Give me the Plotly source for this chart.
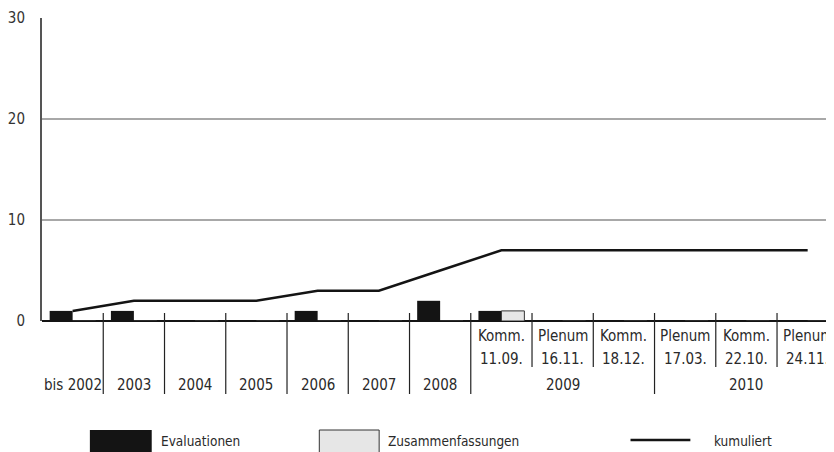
import plotly.graph_objects as go

# categories (x positions 0..12) and their two label rows
top_row = ["", "", "", "", "", "", "", "Komm.", "Plenum", "Komm.", "Plenum", "Komm.", "Plenum"]
mid_row = ["", "", "", "", "", "", "", "11.09.", "16.11.", "18.12.", "17.03.", "22.10.", "24.11."]
year_labels = ["bis 2002", "2003", "2004", "2005", "2006", "2007", "2008"]
group_labels = ["2009", "2010"]

evaluationen = [1, 1, 0, 0, 1, 0, 2, 1, 0, 0, 0, 0, 0]
zusammenfassungen = [0, 0, 0, 0, 0, 0, 0, 1, 0, 0, 0, 0, 0]
kumuliert = [1, 2, 2, 2, 3, 3, 5, 7, 7, 7, 7, 7, 7]

y_ticks = [0, 10, 20, 30]

FONT = "DejaVu Sans Condensed, Liberation Sans Narrow, Roboto, sans-serif"
TXT = "#2a2a2a"
x = list(range(len(kumuliert)))

# page body has an 8px margin, so work in screen pixels and shift
OFF = 8
FIG_W, FIG_H = 834 - OFF, 452 - OFF
PLOT_L, PLOT_T, PLOT_B = 40, 18, 321   # screen pixels

fig = go.Figure()
fig.add_trace(go.Bar(x=x, y=evaluationen, name="Evaluationen",
                     marker=dict(color="#141414", line=dict(width=0))))
fig.add_trace(go.Bar(x=x, y=zusammenfassungen, name="Zusammenfassungen",
                     marker=dict(color="#e6e6e6", line=dict(color="#333333", width=1))))
fig.add_trace(go.Scatter(x=x, y=kumuliert, name="kumuliert", mode="lines",
                         line=dict(color="#141414", width=2.5)))

shapes = []
ann = []

def py(p):
    return (PLOT_B - p) / float(PLOT_B - PLOT_T)

def px_(p):
    return (p - PLOT_L) / float(834 - PLOT_L)

def label(xv, yv, text, xref="x", xanchor="center", size=15):
    ann.append(dict(x=xv, y=yv, xref=xref, yref="paper", text=text, showarrow=False,
                    xanchor=xanchor, yanchor="middle", font=dict(size=size)))

# separators under the axis
long_sep = [0.5, 1.5, 2.5, 3.5, 4.5, 5.5, 6.5, 9.5]
short_sep = [7.5, 8.5, 10.5, 11.5]
for s in long_sep:
    shapes.append(dict(type="line", xref="x", yref="paper", x0=s, x1=s,
                       y0=py(313), y1=py(394), line=dict(color="#222", width=1.2)))
for s in short_sep:
    shapes.append(dict(type="line", xref="x", yref="paper", x0=s, x1=s,
                       y0=py(313), y1=py(367), line=dict(color="#222", width=1.2)))

for i, lab in enumerate(year_labels):
    label(i, py(385), lab)
for i in range(len(top_row)):
    if top_row[i]:
        label(i, py(336), top_row[i])
        label(i, py(359), mid_row[i])
label(8, py(385), group_labels[0])
label(11, py(385), group_labels[1])

# custom legend
shapes.append(dict(type="rect", xref="paper", yref="paper", x0=px_(88), x1=px_(150),
                   y0=py(430), y1=py(460), fillcolor="#141414", line=dict(width=0)))
shapes.append(dict(type="rect", xref="paper", yref="paper", x0=px_(318), x1=px_(378),
                   y0=py(430), y1=py(460), fillcolor="#e6e6e6", line=dict(color="#333", width=1)))
shapes.append(dict(type="line", xref="paper", yref="paper", x0=px_(630), x1=px_(690),
                   y0=py(440), y1=py(440), line=dict(color="#141414", width=2.5)))
label(px_(157), py(441), "Evaluationen", xref="paper", xanchor="left", size=13.5)
label(px_(385), py(441), "Zusammenfassungen", xref="paper", xanchor="left", size=13.5)
label(px_(712), py(441), "kumuliert", xref="paper", xanchor="left", size=13.5)

fig.update_layout(
    width=FIG_W, height=FIG_H,
    margin=dict(l=PLOT_L - OFF, r=0, t=PLOT_T - OFF, b=FIG_H - (PLOT_B - OFF)),
    plot_bgcolor="white", paper_bgcolor="white",
    barmode="group", bargap=0.25, bargroupgap=0,
    showlegend=False,
    font=dict(family=FONT, size=15, color=TXT),
    shapes=shapes, annotations=ann,
)
fig.update_xaxes(range=[-0.5, 12.43], showticklabels=False, showgrid=False,
                 zeroline=False, showline=False, ticks="")
fig.update_yaxes(range=[0, 30], tickvals=y_ticks, showgrid=True, gridcolor="#a8a8a8",
                 gridwidth=1.5, zeroline=True, zerolinecolor="#141414", zerolinewidth=2,
                 showline=True, linecolor="#555555", linewidth=2, ticks="",
                 ticklabelstandoff=12, tickfont=dict(size=15, color="#333"))

fig.write_html("out.html")
